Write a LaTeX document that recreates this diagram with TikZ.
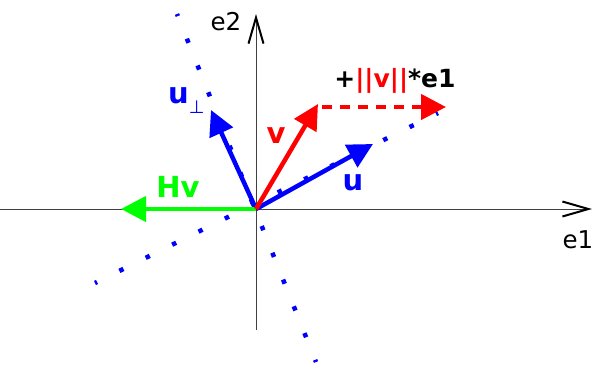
\documentclass[tikz,border=0pt]{standalone}
\usepackage{fontspec}
\setmainfont{DejaVu Sans}
\usepackage{xcolor}
\usepackage{tikz}
\usetikzlibrary{arrows.meta, calc}

\definecolor{vecblue}{RGB}{0,0,255}
\definecolor{vecred}{RGB}{255,0,0}
\definecolor{vecgreen}{RGB}{0,255,0}

\begin{document}
\begin{tikzpicture}[
    x=1pt, y=-1pt,
    every node/.style={inner sep=0pt, font=\fontsize{29}{34}\selectfont\bfseries},
    axisline/.style={black!75, line width=0.9pt,
        -{Straight Barb[length=26pt, width=15pt, line width=2pt, color=black]}},
    axislabel/.style={font=\fontsize{24.5}{30}\selectfont, text=black},
    vecstyle/.style={line width=4.5pt, -{Triangle[length=25pt, width=25pt]}},
    dotline/.style={vecblue, line width=4.5pt, line cap=butt,
        dash pattern=on 4.5pt off #1, dash phase=2.25pt}
]

% picture frame
\useasboundingbox (0,0) rectangle (595,368);

\coordinate (O)  at (256,209);
\coordinate (xa) at (0,209);
\coordinate (xb) at (592,209);
\coordinate (ya) at (256,330);
\coordinate (yb) at (256,14);

% axes
\draw[axisline] (xa) -- (xb);
\draw[axisline] (ya) -- (yb);
\node[axislabel, anchor=base] (e1) at (578,248) {e1};
\node[axislabel, anchor=base] (e2) at (226,30) {e2};

% dotted lines: along u and the mirror
\coordinate (ma) at (177,14);
\coordinate (mb) at (316,362);
\coordinate (la) at (95,283);
\coordinate (lb) at (438,113);
\draw[dotline=24.32pt] (ma) -- (mb);
\draw[dotline=24.95pt] (la) -- (lb);

% vectors
\coordinate (uperp) at (211,110);
\coordinate (u)     at (373,144);
\coordinate (v)     at (318,104);
\coordinate (Hv)    at (121,209);
\coordinate (sa)    at (322,107);
\coordinate (sb)    at (446,107);

\draw[vecstyle, vecblue]  (O) -- (uperp);
\draw[vecstyle, vecblue]  (O) -- (u);
\draw[vecstyle, vecgreen] (O) -- (Hv);
\draw[vecstyle, vecred]   (O) -- (v);
\draw[vecstyle, vecred, dash pattern=on 10pt off 8pt] (sa) -- (sb);

% labels
\node[anchor=base west, text=vecblue] (luperp) at (168,103)
    {u\raisebox{-10pt}{\fontsize{18}{20}\selectfont\mdseries ⊥}};
\node[anchor=base, text=vecblue]  (lu)  at (353,190) {u};
\node[anchor=base, text=vecred]   (lv)  at (276,143) {v};
\node[anchor=base, text=vecgreen] (lHv) at (178,197) {Hv};
\node[anchor=base, font=\fontsize{25}{30}\selectfont\bfseries] (lshift) at (395,87)
    {+\textcolor{vecred}{||v||}*e1};

\end{tikzpicture}
\end{document}
